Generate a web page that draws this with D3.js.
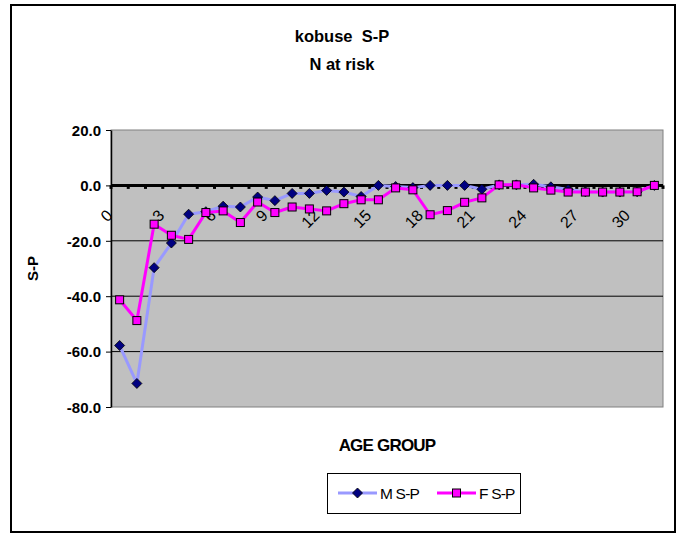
<!DOCTYPE html>
<html><head><meta charset="utf-8">
<script src="https://cdn.jsdelivr.net/npm/d3@7"></script>
<style>
body{margin:0;background:#fff}
svg{display:block}
text{font-family:"Liberation Sans",Arial,Helvetica,sans-serif}
</style></head><body>
<svg id="chart" width="684" height="533"></svg>
<script>
// ---- data ----
const categories = ["0","1","2","3","4","5","6","7","8","9","10","11","12","13","14","15",
  "16","17","18","19","20","21","22","23","24","25","26","27","28","29","30","31"];
const xTickLabels = ["0","3","6","9","12","15","18","21","24","27","30"];
const maleSP = [-57.8,-71.5,-29.7,-20.8,-10.4,-9.5,-7.5,-7.8,-4.2,-5.5,-2.9,-2.9,-1.8,-2.4,-4.0,0.0,
  -0.4,-0.8,0.0,0.0,0.0,-1.4,0.2,0.2,0.4,-0.5,-1.5,-2.3,-2.4,-2.4,-2.3,0.0];
const femaleSP = [-41.3,-48.8,-14.0,-18.0,-19.5,-9.8,-9.2,-13.4,-6.0,-9.8,-7.8,-8.5,-9.2,-6.6,-5.2,-5.2,
  -0.9,-1.6,-10.6,-9.1,-6.1,-4.5,0.2,0.2,-0.9,-1.7,-2.4,-2.4,-2.4,-2.4,-2.3,0.0];
const yTicks = [20,0,-20,-40,-60,-80];
const seriesNames = ["M S-P","F S-P"];
const titleLines = ["kobuse  S-P","N at risk"];
const xTitle = "AGE GROUP";
const yTitle = "S-P";

// ---- layout ----
const svg = d3.select("#chart");
const L = 111, R = 663, T = 130, B = 407;

const x = d3.scaleBand().domain(categories).range([L, R]);
const cx = c => x(c) + x.bandwidth()/2;
const y = d3.scaleLinear().domain([-80, 20]).range([B, T]);

// outer border
svg.append("rect").attr("x",11).attr("y",5).attr("width",664).attr("height",527)
  .attr("fill","#fff").attr("stroke","#000").attr("stroke-width",2);

// plot area
svg.append("rect").attr("x",L).attr("y",T).attr("width",R-L).attr("height",B-T)
  .attr("fill","#c0c0c0").attr("stroke","#808080").attr("stroke-width",1);

// gridlines
svg.append("g").selectAll("line").data(yTicks.filter(d => d !== 20 && d !== -80 && d !== 0)).join("line")
  .attr("x1",L).attr("x2",R).attr("y1",d=>y(d)).attr("y2",d=>y(d))
  .attr("stroke","#000").attr("stroke-width",1);

// y axis
const yAxis = d3.axisLeft(y).tickValues(yTicks).tickFormat(d => d.toFixed(1)).tickSize(5).tickSizeOuter(0);
const gy = svg.append("g").attr("transform",`translate(${L},0)`).call(yAxis);
gy.select(".domain").attr("stroke","#000").attr("stroke-width",1.5);
gy.selectAll(".tick line").attr("stroke","#000");
gy.selectAll(".tick text").attr("font-size",15).attr("font-weight","bold").attr("fill","#000")
  .attr("font-family","'Liberation Sans',Arial,sans-serif").attr("x",-10).attr("dy","0.35em");

// x axis at y=0
const y0 = y(0);
const xAxis = d3.axisBottom(x).tickValues(xTickLabels).tickSize(0).tickSizeOuter(0);
const gx = svg.append("g").attr("transform",`translate(0,${y0})`).call(xAxis);
gx.select(".domain").remove();
gx.selectAll(".tick text").attr("font-size",16).attr("fill","#000")
  .attr("font-family","'Liberation Sans',Arial,sans-serif")
  .attr("text-anchor","end").attr("dy",null).attr("y",null)
  .attr("transform","translate(-6,31) rotate(-45)");

// axis line + category boundary ticks
const bounds = categories.map(c => x(c)).concat([R]);
svg.append("g").selectAll("rect").data(bounds).join("rect")
  .attr("x",d=>d-1.5).attr("y",y0).attr("width",3).attr("height",3.5).attr("fill","#000");
svg.append("line").attr("x1",L).attr("x2",R).attr("y1",y0).attr("y2",y0)
  .attr("stroke","#000").attr("stroke-width",3);

// series
const line = d3.line().x((d,i)=>cx(categories[i])).y(d=>y(d));
svg.append("path").datum(maleSP).attr("d",line).attr("fill","none")
  .attr("stroke","#9999ff").attr("stroke-width",3).attr("stroke-linejoin","round");
const diamond = "M0,-5L5,0L0,5L-5,0Z";
svg.append("g").selectAll("path").data(maleSP).join("path")
  .attr("d",diamond).attr("transform",(d,i)=>`translate(${cx(categories[i])},${y(d)})`)
  .attr("fill","#000080").attr("stroke","#000").attr("stroke-width",0.8);

svg.append("path").datum(femaleSP).attr("d",line).attr("fill","none")
  .attr("stroke","#ff00ff").attr("stroke-width",3).attr("stroke-linejoin","round");
svg.append("g").selectAll("rect").data(femaleSP).join("rect")
  .attr("x",(d,i)=>cx(categories[i])-4).attr("y",d=>y(d)-4).attr("width",8).attr("height",8)
  .attr("fill","#ff00ff").attr("stroke","#000").attr("stroke-width",1);

// titles
svg.append("text").attr("x",342).attr("y",42).attr("text-anchor","middle")
  .attr("font-size",16.5).attr("font-weight","bold").text(titleLines[0]).style("white-space","pre");
svg.append("text").attr("x",342).attr("y",70).attr("text-anchor","middle")
  .attr("font-size",16.5).attr("font-weight","bold").text(titleLines[1]);
svg.append("text").attr("x",(L+R)/2).attr("y",451).attr("text-anchor","middle")
  .attr("font-size",17).attr("font-weight","bold").attr("letter-spacing",-0.8).text(xTitle);
svg.append("text").attr("transform",`translate(38,${(T+B)/2}) rotate(-90)`).attr("text-anchor","middle")
  .attr("font-size",15).attr("font-weight","bold").text(yTitle);

// legend
const lg = svg.append("g");
lg.append("rect").attr("x",327.5).attr("y",473.5).attr("width",193).attr("height",40)
  .attr("fill","#fff").attr("stroke","#000").attr("stroke-width",1);
const ly = 493;
const items = [
  {name:seriesNames[0], x0:338, color:"#9999ff", m:"d"},
  {name:seriesNames[1], x0:437, color:"#ff00ff", m:"s"}
];
items.forEach(it => {
  lg.append("line").attr("x1",it.x0).attr("x2",it.x0+39).attr("y1",ly).attr("y2",ly)
    .attr("stroke",it.color).attr("stroke-width",3);
  if (it.m === "d") {
    lg.append("path").attr("d",diamond).attr("transform",`translate(${it.x0+19.5},${ly})`)
      .attr("fill","#000080").attr("stroke","#000").attr("stroke-width",0.8);
  } else {
    lg.append("rect").attr("x",it.x0+15.5).attr("y",ly-4).attr("width",8).attr("height",8)
      .attr("fill","#ff00ff").attr("stroke","#000");
  }
  lg.append("text").attr("x",it.x0+42).attr("y",ly+6).attr("font-size",15.5).attr("letter-spacing",-0.8).text(it.name);
});
</script>
</body></html>
